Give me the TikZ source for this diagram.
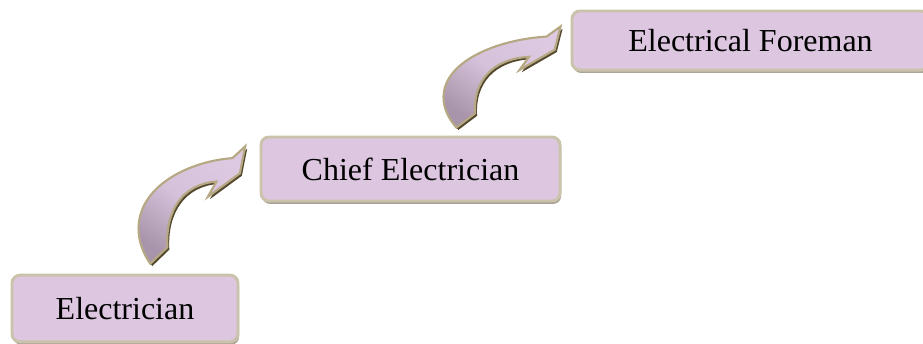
\documentclass[tikz,border=0pt]{standalone}
\usepackage{fontspec}
\setmainfont{Liberation Serif}
\usepackage{tikz}
\usetikzlibrary{shadows,calc}

\definecolor{boxfill}{HTML}{DCC6E0}
\definecolor{boxline}{HTML}{CAC2AA}
\definecolor{boxshade}{HTML}{A9A396}
\definecolor{arrowlight}{HTML}{DDC9E2}
\definecolor{arrowdark}{HTML}{A895AB}
\definecolor{arrowline}{HTML}{B6A883}
\definecolor{arrowshade}{HTML}{54482E}

\tikzset{
	stage/.style = {draw = boxline, line width = 2.2pt, fill = boxfill, rounded corners = 6pt,
		font = \fontsize{24}{28}\selectfont, inner sep = 0pt,
		drop shadow = {shadow xshift = .8pt, shadow yshift = -2.2pt, fill = boxshade, opacity = 1}}
}

% outline of the curved step arrow, in a unit box
\newcommand{\arrowoutline}{(.11,0) -- (.27,.14) .. controls (.25,.46) and (.42,.68) .. (.73,.70)
	-- (.65,.57) -- (.95,.77) -- (1,1) -- (.88,.90)
	.. controls (.45,.87) and (0,.65) .. (0,.30) .. controls (0,.18) and (.05,.08) .. (.11,0) -- cycle}

\newcommand{\liftarrow}[3]{%
	\begin{scope}[shift = {(#1)}, x = #2, y = #3]
		\fill[arrowshade, xshift = 1.5pt, yshift = -1.8pt] \arrowoutline;
		\draw[draw = arrowline, line width = 1.6pt, top color = arrowlight, bottom color = arrowdark,
			middle color = arrowlight!85!arrowdark, shading angle = -35] \arrowoutline;
	\end{scope}}

\begin{document}
\begin{tikzpicture}[x = .75pt, y = -.75pt]
	\useasboundingbox (0,0) rectangle (923,343);
	\node[stage, minimum width = 169.5pt, minimum height = 50pt] (el) at (125,308.5) {Electrician};
	\node[stage, minimum width = 224.3pt, minimum height = 48pt] (chief) at (410.5,169) {Chief Electrician};
	\node[stage, minimum width = 267.8pt, minimum height = 44.3pt] (foreman) at (750.5,40.5) {Electrical Foreman};
	% arrows between the steps
	\coordinate (a1) at ($(el.north west)+(128,-10)$);
	\coordinate (a2) at ($(chief.north west)+(184,-8)$);
	\liftarrow{a1}{80pt}{88pt}
	\liftarrow{a2}{87.8pt}{75.8pt}
\end{tikzpicture}
\end{document}
